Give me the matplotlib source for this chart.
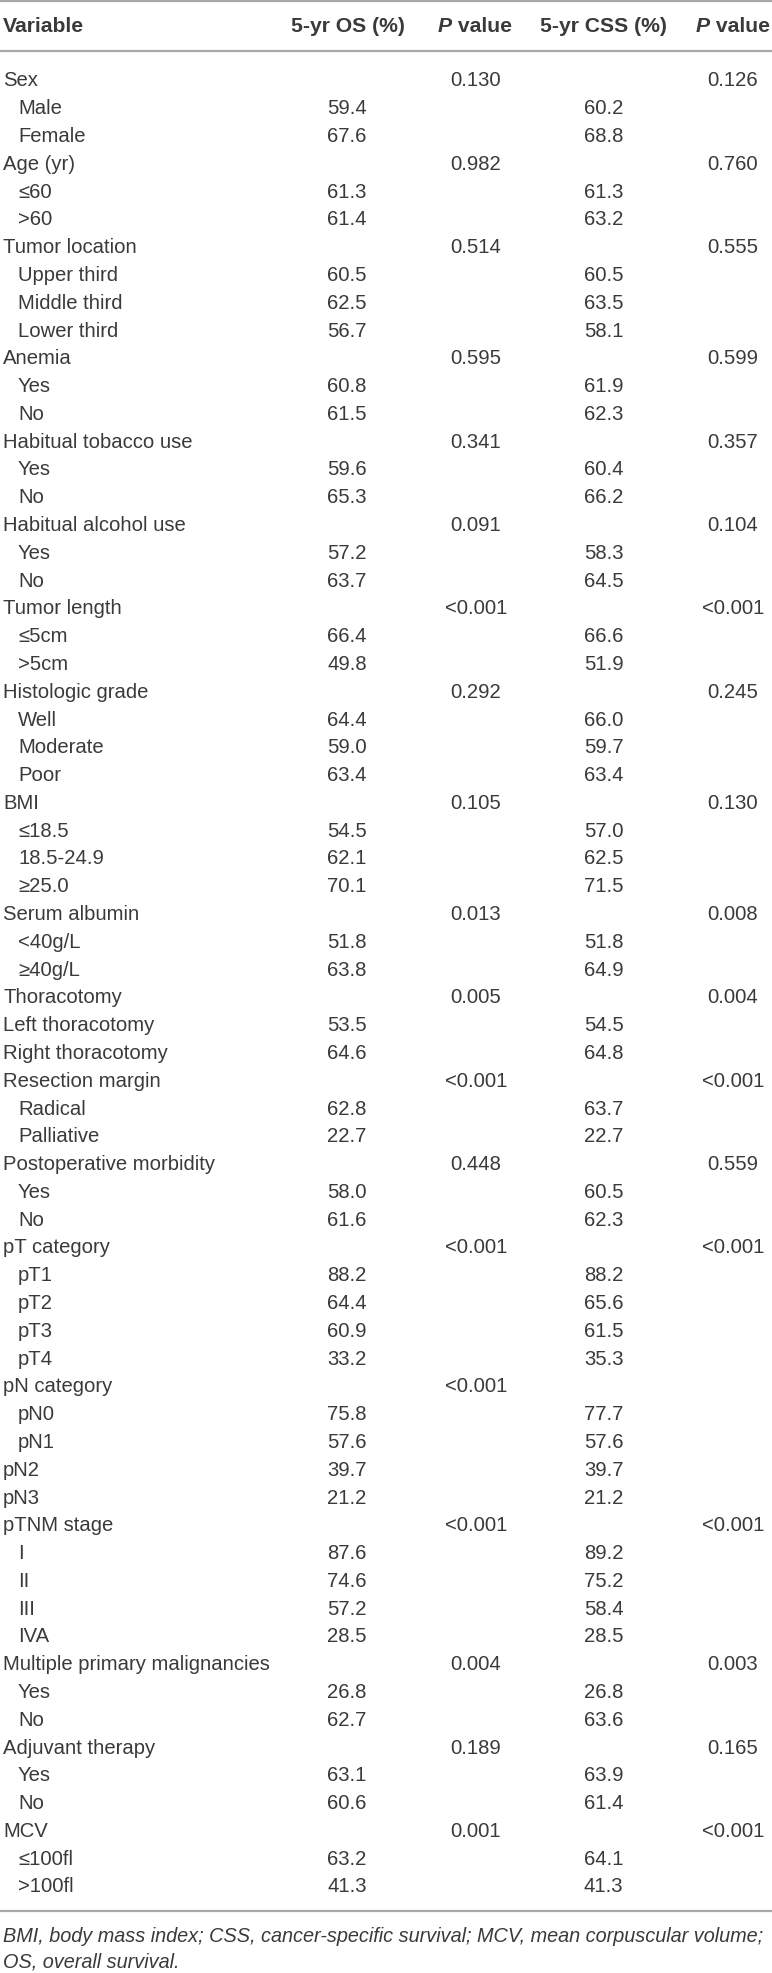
import matplotlib
matplotlib.use("Agg")
import matplotlib.pyplot as plt

plt.rcParams['font.family'] = ['Liberation Sans', 'DejaVu Sans']

# table columns, one entry per row
labels = ["Sex", "Male", "Female",
          "Age (yr)", "\u226460", ">60",
          "Tumor location", "Upper third", "Middle third", "Lower third",
          "Anemia", "Yes", "No",
          "Habitual tobacco use", "Yes", "No",
          "Habitual alcohol use", "Yes", "No",
          "Tumor length", "\u22645cm", ">5cm",
          "Histologic grade", "Well", "Moderate", "Poor",
          "BMI", "\u226418.5", "18.5-24.9", "\u226525.0",
          "Serum albumin", "<40g/L", "\u226540g/L",
          "Thoracotomy", "Left thoracotomy", "Right thoracotomy",
          "Resection margin", "Radical", "Palliative",
          "Postoperative morbidity", "Yes", "No",
          "pT category", "pT1", "pT2", "pT3", "pT4",
          "pN category", "pN0", "pN1", "pN2", "pN3",
          "pTNM stage", "I", "II", "III", "IVA",
          "Multiple primary malignancies", "Yes", "No",
          "Adjuvant therapy", "Yes", "No",
          "MCV", "\u2264100fl", ">100fl"]

# indentation flag for each row (0 = flush left)
indent = [0, 1, 1,
          0, 1, 1,
          0, 1, 1, 1,
          0, 1, 1,
          0, 1, 1,
          0, 1, 1,
          0, 1, 1,
          0, 1, 1, 1,
          0, 1, 1, 1,
          0, 1, 1,
          0, 0, 0,
          0, 1, 1,
          0, 1, 1,
          0, 1, 1, 1, 1,
          0, 1, 1, 0, 0,
          0, 1, 1, 1, 1,
          0, 1, 1,
          0, 1, 1,
          0, 1, 1]

os_5yr = ["", "59.4", "67.6",
          "", "61.3", "61.4",
          "", "60.5", "62.5", "56.7",
          "", "60.8", "61.5",
          "", "59.6", "65.3",
          "", "57.2", "63.7",
          "", "66.4", "49.8",
          "", "64.4", "59.0", "63.4",
          "", "54.5", "62.1", "70.1",
          "", "51.8", "63.8",
          "", "53.5", "64.6",
          "", "62.8", "22.7",
          "", "58.0", "61.6",
          "", "88.2", "64.4", "60.9", "33.2",
          "", "75.8", "57.6", "39.7", "21.2",
          "", "87.6", "74.6", "57.2", "28.5",
          "", "26.8", "62.7",
          "", "63.1", "60.6",
          "", "63.2", "41.3"]

os_p = ["0.130", "", "",
        "0.982", "", "",
        "0.514", "", "", "",
        "0.595", "", "",
        "0.341", "", "",
        "0.091", "", "",
        "<0.001", "", "",
        "0.292", "", "", "",
        "0.105", "", "", "",
        "0.013", "", "",
        "0.005", "", "",
        "<0.001", "", "",
        "0.448", "", "",
        "<0.001", "", "", "", "",
        "<0.001", "", "", "", "",
        "<0.001", "", "", "", "",
        "0.004", "", "",
        "0.189", "", "",
        "0.001", "", ""]

css_5yr = ["", "60.2", "68.8",
           "", "61.3", "63.2",
           "", "60.5", "63.5", "58.1",
           "", "61.9", "62.3",
           "", "60.4", "66.2",
           "", "58.3", "64.5",
           "", "66.6", "51.9",
           "", "66.0", "59.7", "63.4",
           "", "57.0", "62.5", "71.5",
           "", "51.8", "64.9",
           "", "54.5", "64.8",
           "", "63.7", "22.7",
           "", "60.5", "62.3",
           "", "88.2", "65.6", "61.5", "35.3",
           "", "77.7", "57.6", "39.7", "21.2",
           "", "89.2", "75.2", "58.4", "28.5",
           "", "26.8", "63.6",
           "", "63.9", "61.4",
           "", "64.1", "41.3"]

css_p = ["0.126", "", "",
         "0.760", "", "",
         "0.555", "", "", "",
         "0.599", "", "",
         "0.357", "", "",
         "0.104", "", "",
         "<0.001", "", "",
         "0.245", "", "", "",
         "0.130", "", "", "",
         "0.008", "", "",
         "0.004", "", "",
         "<0.001", "", "",
         "0.559", "", "",
         "<0.001", "", "", "", "",
         "", "", "", "", "",
         "<0.001", "", "", "", "",
         "0.003", "", "",
         "0.165", "", "",
         "<0.001", "", ""]

footnote = ["BMI, body mass index; CSS, cancer-specific survival; MCV, mean corpuscular volume;",
            "OS, overall survival."]

W, H = 772, 1974
fig = plt.figure(figsize=(W / 100, H / 100), dpi=100)
ax = fig.add_axes([0, 0, 1, 1])
ax.set_xlim(0, W)
ax.set_ylim(H, 0)
ax.axis('off')

txt = '#3a3a3a'
rule = '#a8a8a8'
fs = 14.6
hfs = 15.2

# rules
for yy in [1.5, 52, 1912]:
    ax.plot([0, W], [yy, yy], color=rule, lw=1.6, solid_capstyle='butt')

# header
hy = 27
ax.text(3, hy, "Variable", fontsize=hfs, fontweight='bold', color=txt, va='center')
ax.text(291, hy, "5-yr OS (%)", fontsize=hfs, fontweight='bold', color=txt, va='center')
ax.text(540, hy, "5-yr CSS (%)", fontsize=hfs, fontweight='bold', color=txt, va='center')

fig.canvas.draw()
renderer = fig.canvas.get_renderer()


def p_header(xc):
    a = ax.text(0, hy, "P", fontsize=hfs, fontweight='bold', style='italic', color=txt, va='center')
    b = ax.text(0, hy, "\u00a0value", fontsize=hfs, fontweight='bold', color=txt, va='center')
    wa = a.get_window_extent(renderer).width
    wb = b.get_window_extent(renderer).width
    x0 = xc - (wa + wb) / 2
    a.set_x(x0)
    b.set_x(x0 + wa)


p_header(475)
p_header(733)

# body rows
y0, y1 = 81, 1887
dy = (y1 - y0) / (len(labels) - 1)
for i, lab in enumerate(labels):
    y = y0 + i * dy
    ax.text(3 + 15 * indent[i], y, lab, fontsize=fs, color=txt, va='center')
    ax.text(327, y, os_5yr[i], fontsize=fs, color=txt, va='center')
    ax.text(476, y, os_p[i], fontsize=fs, color=txt, va='center', ha='center')
    ax.text(584, y, css_5yr[i], fontsize=fs, color=txt, va='center')
    ax.text(733, y, css_p[i], fontsize=fs, color=txt, va='center', ha='center')

# footnote
ax.text(3, 1937, footnote[0], fontsize=14.3, style='italic', color=txt, va='center')
ax.text(3, 1962, footnote[1], fontsize=14.3, style='italic', color=txt, va='center')

fig.savefig('out.png', dpi=100)
